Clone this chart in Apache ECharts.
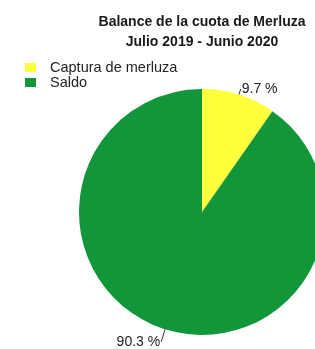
<!DOCTYPE html>
<html>
<head>
<meta charset="utf-8">
<script src="https://cdn.jsdelivr.net/npm/echarts@6/dist/echarts.min.js"></script>
<style>
  html, body { margin: 0; padding: 0; background: #fff; }
  #chart { width: 315px; height: 349px; }
</style>
</head>
<body>
<div id="chart"></div>
<script>
const titleLines = ['Balance de la cuota de Merluza', 'Julio 2019 - Junio 2020']
const categories = ['Captura de merluza', 'Saldo']
const percents = [9.7, 90.3]
const colors = ['#ffff3c', '#12963a']

const chart = echarts.init(document.getElementById('chart'))

chart.setOption({
  backgroundColor: '#fff',
  animation: false,
  graphic: titleLines.map((t, i) => ({
    type: 'text',
    x: 202,
    y: 22 + i * 20,
    style: {
      text: t,
      align: 'center',
      verticalAlign: 'middle',
      fontFamily: 'Liberation Sans',
      fontSize: 14,
      fontWeight: 'bold',
      fill: '#1a1a1a'
    }
  })),
  legend: {
    orient: 'vertical',
    left: 25,
    top: 60,
    padding: 0,
    itemWidth: 11,
    itemHeight: 9,
    itemGap: 0,
    icon: 'rect',
    data: categories,
    textStyle: {
      fontFamily: 'Liberation Sans',
      fontSize: 14.5,
      lineHeight: 15,
      color: '#222',
      padding: [0, 0, 0, 9]
    }
  },
  series: [{
    type: 'pie',
    center: [202, 212],
    radius: 123,
    startAngle: 90,
    clockwise: true,
    avoidLabelOverlap: false,
    data: categories.map((name, i) => ({
      name,
      value: percents[i],
      itemStyle: { color: colors[i] },
      label: i === 0 ? { padding: [0, 0, 10, 0] } : {},
      labelLine: { length: i === 0 ? 6 : 13 }
    })),
    label: {
      show: true,
      position: 'outside',
      formatter: p => p.value.toFixed(1) + ' %',
      fontFamily: 'Liberation Sans',
      fontSize: 14,
      color: '#222',
      distanceToLabelLine: 1
    },
    labelLine: {
      show: true,
      length2: 0,
      lineStyle: { color: '#333', width: 1 }
    },
    emphasis: { disabled: true }
  }]
})
</script>
</body>
</html>
